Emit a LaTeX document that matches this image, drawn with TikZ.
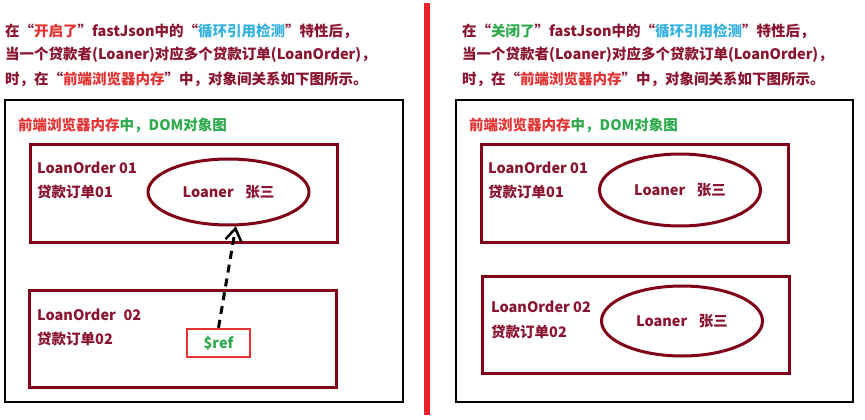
\documentclass[tikz,border=0pt]{standalone}
\usepackage{fontspec}
\setmainfont{Noto Sans CJK SC}
\usetikzlibrary{shapes.geometric,arrows.meta}
\definecolor{wine}{HTML}{8A1430}
\definecolor{boxred}{HTML}{800018}
\definecolor{hotred}{HTML}{E63232}
\definecolor{skyblue}{HTML}{34B2E4}
\definecolor{leafgreen}{HTML}{2EAA4C}
\definecolor{barred}{HTML}{EC2026}
\newcommand{\hot}[1]{\textcolor{hotred}{#1}}
\newcommand{\sky}[1]{\textcolor{skyblue}{#1}}
\newcommand{\leaf}[1]{\textcolor{leafgreen}{#1}}
\tikzset{
	txt/.style={anchor=west, inner sep=0pt, text=wine, font=\fontsize{14.5}{16}\selectfont\bfseries},
	panel/.style={draw=black, line width=2.5pt, inner sep=0pt, minimum height=302pt},
	orderbox/.style={draw=boxred, line width=3pt, inner sep=0pt, minimum width=307pt},
	loaner/.style={ellipse, draw=boxred, line width=3pt, inner sep=0pt, minimum width=161pt, text=wine, font=\fontsize{14.5}{16}\selectfont\bfseries},
	refbox/.style={draw=hotred, line width=2.5pt, inner sep=0pt, minimum width=63pt, minimum height=28pt, text=leafgreen, font=\fontsize{14.5}{16}\selectfont\bfseries},
	refarrow/.style={draw=black, line width=3pt, dash pattern=on 8pt off 6pt, -{Straight Barb[length=12pt,width=16pt,line width=2.5pt]}}
}
\begin{document}
\begin{tikzpicture}[x=1pt, y=-1pt]
			\useasboundingbox (0,0) rectangle (865,420);
			\fill[white] (0,0) rectangle (865,420);

			% divider
			\fill[barred] (423.5,3) rectangle (429.5,415);

			% left: feature switched on
			\node[txt] (lTitleA) at(5, 31){在“\hot{开启了}”fastJson中的“\sky{循环引用检测}”特性后，};
			\node[txt] (lTitleB) at(5, 55){当一个贷款者(Loaner)对应多个贷款订单(LoanOrder)，};
			\node[txt] (lTitleC) at(5, 79){时，在“\hot{前端浏览器内存}”中，对象间关系如下图所示。};

			\node[panel, minimum width=398pt] (panelL) at(204, 251){};
				\node[txt] (domL) at(18, 125){\hot{前端浏览器内存}\leaf{中，DOM对象图}};

				\node[orderbox, minimum height=98pt] (orderLA) at(183.5, 193){};
					\node[txt] (orderLAen) at(37, 168){LoanOrder 01};
					\node[txt] (orderLAcn) at(37, 192){贷款订单01};
					\node[loaner, minimum height=66pt] (loanerL) at(228.5, 192){Loaner\hspace{0.8em}张三};

				\node[orderbox, minimum height=97pt] (orderLB) at(182.5, 338.5){};
					\node[txt] (orderLBen) at(37, 315){LoanOrder\hspace{0.3em} 02};
					\node[txt] (orderLBcn) at(37, 339){贷款订单02};
					\node[refbox] (ref) at(218.5, 343){\$ref};

			\draw[refarrow] (ref.north) -- (loanerL.-78);

			% right: feature switched off
			\node[txt] (rTitleA) at(462, 31){在“\leaf{关闭了}”fastJson中的“\sky{循环引用检测}”特性后，};
			\node[txt] (rTitleB) at(462, 55){当一个贷款者(Loaner)对应多个贷款订单(LoanOrder)，};
			\node[txt] (rTitleC) at(462, 79){时，在“\hot{前端浏览器内存}”中，对象间关系如下图所示。};

			\node[panel, minimum width=397pt] (panelR) at(654.5, 251){};
				\node[txt] (domR) at(469, 125){\hot{前端浏览器内存}\leaf{中，DOM对象图}};

				\node[orderbox, minimum height=98pt] (orderRA) at(634.5, 193){};
					\node[txt] (orderRAen) at(488, 168){LoanOrder 01};
					\node[txt] (orderRAcn) at(488, 192){贷款订单01};
					\node[loaner, minimum height=72pt] (loanerRA) at(680, 190){Loaner\hspace{0.8em}张三};

				\node[orderbox, minimum height=97pt] (orderRB) at(636, 324.5){};
					\node[txt] (orderRBen) at(491, 307){LoanOrder 02};
					\node[txt] (orderRBcn) at(491, 332){贷款订单02};
					\node[loaner, minimum height=70pt] (loanerRB) at(682, 321){Loaner\hspace{0.8em}张三};

\end{tikzpicture}
\end{document}
